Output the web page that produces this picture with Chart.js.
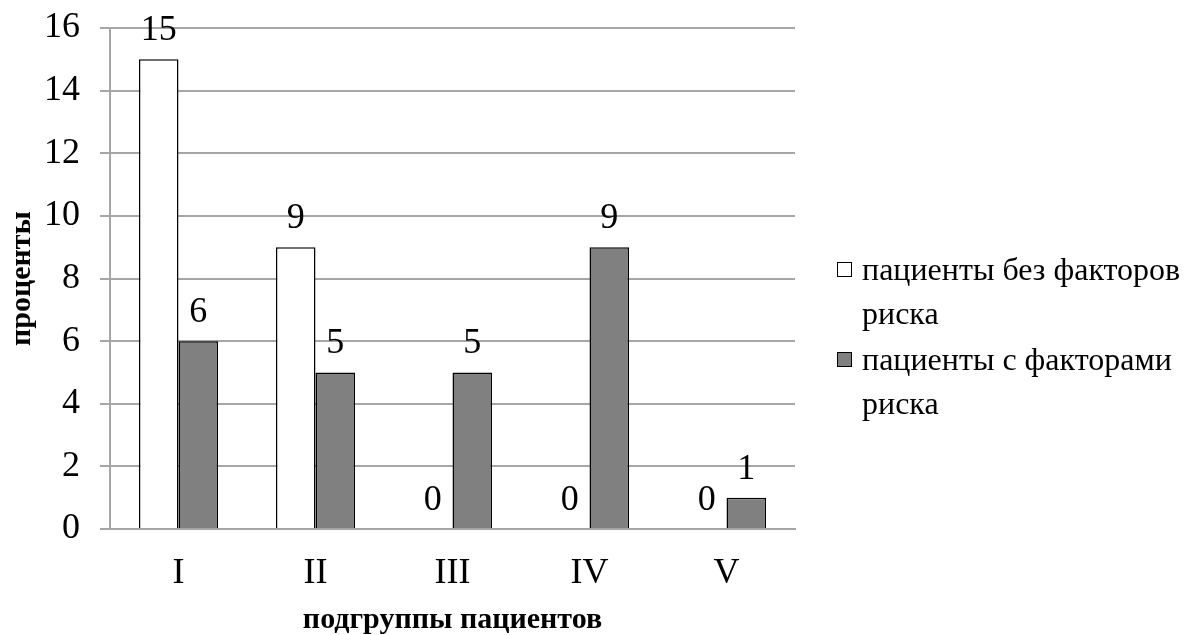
<!DOCTYPE html>
<html>
<head>
<meta charset="utf-8">
<script src="https://cdn.jsdelivr.net/npm/chart.js@4/dist/chart.umd.min.js"></script>
<style>
  html, body { margin: 0; padding: 0; background: #fff; }
  #wrap { position: relative; width: 1195px; height: 635px; }
  #legend { position: absolute; left: 837px; top: 247px; font: 32px "Liberation Serif", serif; color: #000; }
  .item { position: relative; padding-left: 25px; line-height: 44px; margin-bottom: 2px; white-space: nowrap; }
  .box { position: absolute; left: 0; top: 15px; width: 13px; height: 13px; border: 1px solid #000; }
</style>
</head>
<body>
<div id="wrap">
  <canvas id="chart" width="1195" height="635"></canvas>
  <div id="legend"></div>
</div>
<script>
  const categories = ['I', 'II', 'III', 'IV', 'V'];
  const withoutRisk = [15, 9, 0, 0, 0];
  const withRisk = [6, 5, 5, 9, 1];
  const seriesNames = [['пациенты без факторов', 'риска'], ['пациенты с факторами', 'риска']];
  const seriesColors = ['#ffffff', '#808080'];
  const yTitle = 'проценты';
  const xTitle = 'подгруппы пациентов';

  const serif = '"Liberation Serif", "Times New Roman", serif';
  const gridColor = '#a6a6a6';

  // value labels above every bar, zeros included
  const valueLabels = {
    id: 'valueLabels',
    afterDatasetsDraw(chart) {
      const ctx = chart.ctx;
      ctx.save();
      ctx.font = '36px ' + serif;
      ctx.fillStyle = '#000';
      ctx.textAlign = 'center';
      ctx.textBaseline = 'alphabetic';
      chart.data.datasets.forEach((ds, i) => {
        chart.getDatasetMeta(i).data.forEach((bar, j) => {
          ctx.fillText(String(ds.data[j]), bar.x, bar.y - 19);
        });
      });
      ctx.restore();
    }
  };

  new Chart(document.getElementById('chart'), {
    type: 'bar',
    data: {
      labels: categories,
      datasets: [
        { label: seriesNames[0].join(' '), data: withoutRisk, backgroundColor: seriesColors[0] },
        { label: seriesNames[1].join(' '), data: withRisk, backgroundColor: seriesColors[1] }
      ]
    },
    options: {
      responsive: false,
      animation: false,
      devicePixelRatio: 1,
      layout: { padding: { top: 28, right: 400, left: 0, bottom: 0 } },
      datasets: {
        bar: { categoryPercentage: 0.577, barPercentage: 1, borderColor: '#000', borderWidth: 1.5, borderSkipped: 'bottom' }
      },
      plugins: { legend: { display: false }, tooltip: { enabled: false } },
      scales: {
        x: {
          grid: { display: false },
          border: { color: gridColor, width: 2 },
          ticks: { font: { family: serif, size: 36 }, color: '#000', padding: 15 },
          title: { display: true, text: xTitle, color: '#000', font: { family: serif, size: 30, weight: 'bold', lineHeight: 1 }, padding: 0 },
          afterFit(s) { s.height = 106; }
        },
        y: {
          min: 0,
          max: 16,
          grid: { color: gridColor, lineWidth: 2, tickLength: 10 },
          border: { color: gridColor, width: 2 },
          ticks: { stepSize: 2, font: { family: serif, size: 36 }, color: '#000', padding: 20 },
          title: { display: true, text: yTitle, color: '#000', font: { family: serif, size: 30, weight: 'bold' }, padding: { top: 4, bottom: 0 } },
          afterFit(s) { s.width = 110; s.paddingTop = 0; s.paddingBottom = 0; }
        }
      }
    },
    plugins: [valueLabels]
  });

  const legendEl = document.getElementById('legend');
  seriesNames.forEach((lines, i) => {
    const item = document.createElement('div');
    item.className = 'item';
    const box = document.createElement('span');
    box.className = 'box';
    box.style.background = seriesColors[i];
    item.appendChild(box);
    item.appendChild(document.createTextNode(lines[0]));
    item.appendChild(document.createElement('br'));
    item.appendChild(document.createTextNode(lines[1]));
    legendEl.appendChild(item);
  });
</script>
</body>
</html>
